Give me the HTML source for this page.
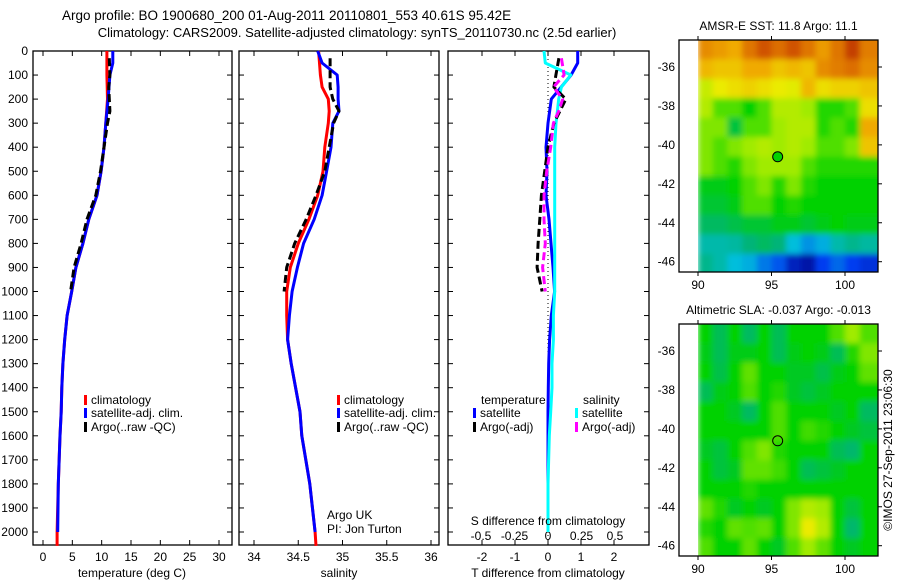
<!DOCTYPE html>
<html><head><meta charset="utf-8"><style>
html,body{margin:0;padding:0;background:#fff;}
svg{display:block;font-family:"Liberation Sans",sans-serif;font-size:12px;}
</style></head><body>
<svg id="c" width="900" height="580" xmlns="http://www.w3.org/2000/svg">
<defs>
<filter id="blur" x="0" y="0" width="1" height="1"><feGaussianBlur stdDeviation="3" edgeMode="duplicate"/></filter>
<clipPath id="clip1"><rect x="697" y="40" width="181" height="232"/></clipPath>
<clipPath id="clip2"><rect x="697" y="324" width="181" height="232"/></clipPath>
</defs>
<text x="62" y="20" font-size="13.5">Argo profile: BO 1900680_200 01-Aug-2011 20110801_553 40.61S 95.42E</text>
<text x="357" y="37" font-size="13" text-anchor="middle">Climatology: CARS2009. Satellite-adjusted climatology: synTS_20110730.nc (2.5d earlier)</text>
<g id="g"></g>
</svg>
<script>
// ---- data ----
const depthT = [0,50,100,200,300,400,500,600,700,800,900,1000,1100,1200,1300,1400,1500,1600,1800,2000,2058];
const tempClim = [10.9,10.9,10.9,11.0,10.7,10.4,9.9,9.2,7.8,6.8,5.6,4.9,4.1,3.7,3.4,3.2,3.1,2.9,2.6,2.4,2.4];
const tempSat  = [11.9,11.9,11.4,11.1,10.7,10.4,9.9,9.2,7.8,6.8,5.6,4.9,4.1,3.7,3.4,3.2,3.1,2.9,2.6,2.5,null];
const depthArgo = [30,100,150,200,250,300,400,500,600,700,800,900,1000];
const tempArgo = [11.3,11.4,11.2,11.3,11.4,11.0,10.4,9.8,9.0,7.5,6.5,5.3,4.7];
const depthS = [0,50,100,150,200,250,300,400,500,600,700,800,900,1000,1100,1200,1300,1400,1500,1600,1800,2000,2058];
const salClim = [34.73,34.74,34.75,34.77,34.84,34.85,34.84,34.80,34.78,34.72,34.62,34.50,34.41,34.37,34.37,34.38,34.42,34.47,34.52,34.54,34.63,34.69,34.70];
const salSat  = [34.72,34.77,34.94,34.95,34.95,34.96,34.89,34.87,34.82,34.77,34.68,34.56,34.49,34.43,34.40,34.38,34.42,34.47,34.52,34.54,34.63,34.69,null];
const salArgo = [34.86,34.86,34.86,34.89,34.96,34.90,34.85,34.80,34.70,34.59,34.46,34.37,34.34];
const dTsat = [0.9,0.9,0.7,0.1,0,-0.06,-0.03,-0.06,0.03,0.09,0.15,0.2,0.1,0.05,0.02,0.01,0.0,0.0,0.0,0.0,null];
const dSsat = [-0.03,-0.02,0.17,0.1,0.08,0.07,0.06,0.05,0.05,0.05,0.05,0.05,0.05,0.05,0.04,0.04,0.03,0.03,0.02,0.01,0.0,0.0,null];
const dTargo = [0.33,0.24,0.18,0.54,0.36,0.18,0.0,-0.1,-0.2,-0.25,-0.3,-0.33,-0.18];
const dSargo = [0.1,0.12,0.04,0.11,0.08,0.04,0.02,-0.01,-0.03,-0.03,-0.02,-0.04,-0.02];
const sstGrid = [
[.82,.8,.78,.85,.9,.86,.9,.85,.8,.85,.93,.84],
[.76,.74,.74,.78,.78,.74,.76,.74,.82,.84,.86,.82],
[.64,.68,.7,.72,.7,.68,.67,.76,.7,.72,.72,.74],
[.62,.55,.55,.5,.55,.62,.62,.6,.52,.52,.55,.7],
[.58,.58,.45,.55,.55,.6,.62,.62,.52,.55,.52,.78],
[.58,.55,.58,.6,.62,.6,.62,.6,.55,.55,.58,.74],
[.58,.55,.52,.58,.6,.6,.6,.55,.52,.52,.52,.52],
[.48,.48,.5,.55,.58,.52,.58,.52,.5,.5,.5,.5],
[.46,.46,.48,.55,.55,.5,.52,.5,.5,.5,.5,.5],
[.42,.42,.44,.46,.46,.48,.48,.46,.48,.5,.48,.48],
[.35,.35,.36,.4,.42,.4,.3,.25,.28,.35,.38,.36],
[.38,.35,.3,.28,.22,.18,.08,.05,.15,.2,.15,.12]];
const slaGrid = [
[.5,.43,.5,.42,.5,.43,.5,.5,.5,.55,.6,.55],
[.48,.43,.48,.48,.5,.43,.48,.5,.48,.43,.52,.58],
[.5,.44,.5,.56,.5,.5,.47,.47,.44,.48,.5,.56],
[.43,.48,.5,.55,.5,.52,.47,.45,.47,.5,.5,.5],
[.5,.5,.47,.42,.5,.55,.5,.5,.5,.47,.5,.42],
[.5,.5,.5,.5,.5,.55,.5,.54,.52,.5,.47,.45],
[.47,.45,.5,.55,.58,.52,.5,.5,.5,.43,.41,.5],
[.5,.45,.47,.56,.56,.54,.5,.43,.45,.47,.5,.5],
[.5,.5,.5,.52,.5,.5,.5,.5,.5,.5,.5,.5],
[.56,.52,.47,.5,.47,.5,.58,.62,.6,.5,.45,.5],
[.52,.5,.56,.55,.56,.5,.58,.68,.62,.5,.41,.5],
[.55,.5,.5,.56,.5,.47,.55,.6,.56,.5,.47,.5]];
const depthTicks = [0,100,200,300,400,500,600,700,800,900,1000,1100,1200,1300,1400,1500,1600,1700,1800,1900,2000];
const tempTicks = [0,5,10,15,20,25,30];
const salTicks = [34,34.5,35,35.5,36];
const dTTicks = [-2,-1,0,1,2];
const dSTicks = [-0.5,-0.25,0,0.25,0.5];
const latTicks = [-36,-38,-40,-42,-44,-46];
const lonTicks = [90,95,100];
const argoLon = 95.42, argoLat = -40.61;

const NS='http://www.w3.org/2000/svg';
const G=document.getElementById('g');
function mk(tag,attrs,parent){const e=document.createElementNS(NS,tag);for(const k in attrs)e.setAttribute(k,attrs[k]);(parent||G).appendChild(e);return e;}
function txt(x,y,s,anchor,parent){const e=mk('text',{x:x,y:y,'text-anchor':anchor||'start'},parent);e.textContent=s;return e;}

const TOP=51, BOT=545;
const yD = d => TOP + d*(532-51)/2000;
function lin(v0,p0,v1,p1){return v=>p0+(v-v0)*(p1-p0)/(v1-v0);}
const xT = lin(0,43,30,219);
const xS = lin(34,254,36,431);
const xdT = lin(0,548,2,614);
const xdS = lin(0,548,0.5,615);

function frame(x0,x1,name){
  const r=mk('rect',{x:x0,y:TOP,width:x1-x0,height:BOT-TOP,fill:'none',stroke:'#000','stroke-width':1.3});
  
  
  depthTicks.forEach(d=>{
    mk('line',{x1:x0,x2:x0+5,y1:yD(d),y2:yD(d),stroke:'#000'});
    mk('line',{x1:x1-5,x2:x1,y1:yD(d),y2:yD(d),stroke:'#000'});
  });
}
function xticks(ticks,fx,name,labelY){
  ticks.forEach(t=>{
    const x=fx(t);
    mk('line',{x1:x,x2:x,y1:BOT,y2:BOT-5,stroke:'#000'});
    mk('line',{x1:x,x2:x,y1:TOP,y2:TOP+5,stroke:'#000'});
    const e=txt(x,labelY,String(t),'middle');
    
    
  });
}
function line(xs,ds,fx,color,dash,name){
  let pts=[];
  xs.forEach((v,i)=>{if(v!==null)pts.push(fx(v).toFixed(1)+','+yD(ds[i]).toFixed(1));});
  const p=mk('polyline',{points:pts.join(' '),fill:'none',stroke:color,'stroke-width':3,'stroke-linejoin':'round'});
  if(dash)p.setAttribute('stroke-dasharray',dash);
  
  
}
function legItem(x,y,color,label,name){
  mk('rect',{x:x,y:y-9,width:3,height:10,fill:color});
  const t=txt(x+7,y,label);
  
  
}

// Panel 1
frame(33,232,'temperature-panel');
depthTicks.forEach(d=>{const t=txt(28,yD(d)+4,String(d),'end');
  
  });
xticks(tempTicks,xT,'temperature-tick-label',561);
line(tempClim,depthT,xT,'#f00',null,'temp-climatology-line');
line(tempSat,depthT,xT,'#00f',null,'temp-satellite-line');
line(tempArgo,depthArgo,xT,'#000','8,4','temp-argo-line');
let t1=txt(132,577,'temperature (deg C)','middle');
legItem(84,404,'#f00','climatology','legend-climatology');
legItem(84,417,'#00f','satellite-adj. clim.','legend-satellite');
legItem(84,431,'#000','Argo(..raw -QC)','legend-argo');

// Panel 2
frame(239,439,'salinity-panel');
xticks(salTicks,xS,'salinity-tick-label',561);
line(salClim,depthS,xS,'#f00',null,'sal-climatology-line');
line(salSat,depthS,xS,'#00f',null,'sal-satellite-line');
line(salArgo,depthArgo,xS,'#000','8,4','sal-argo-line');
let t2=txt(339,577,'salinity','middle');
legItem(337,404,'#f00','climatology','legend-climatology-2');
legItem(337,417,'#00f','satellite-adj. clim.','legend-satellite-2');
legItem(337,431,'#000','Argo(..raw -QC)','legend-argo-2');
let a1=txt(327,519,'Argo UK');
let a2=txt(327,533,'PI: Jon Turton');

// Panel 3
frame(448,649,'difference-panel');
xticks(dTTicks,xdT,'t-diff-tick-label',561);
dSTicks.forEach(t=>{const e=txt(xdS(t),540,String(t),'middle');
  
  });
mk('line',{x1:548,x2:548,y1:TOP,y2:BOT,stroke:'#000','stroke-dasharray':'1,3'});
line(dTsat,depthT,xdT,'#00f',null,'t-diff-satellite-line');
line(dSsat,depthS,xdS,'#0ff',null,'s-diff-satellite-line');
line(dTargo,depthArgo,xdT,'#000','8,4','t-diff-argo-line');
line(dSargo,depthArgo,xdS,'#f0f','8,4','s-diff-argo-line');
let t3=txt(548,577,'T difference from climatology','middle');
let t4=txt(548,525,'S difference from climatology','middle');
let l1=txt(481,404,'temperature');
let l2=txt(583,404,'salinity');
legItem(473,417,'#00f','satellite','legend-t-satellite');
legItem(473,431,'#000','Argo(-adj)','legend-t-argo');
legItem(575,417,'#0ff','satellite','legend-s-satellite');
legItem(575,431,'#f0f','Argo(-adj)','legend-s-argo');

// Maps
const cmapStops=[[0,[0,0,130]],[0.15,[0,60,240]],[0.3,[0,190,220]],[0.4,[0,180,120]],[0.5,[0,210,0]],[0.6,[160,235,0]],[0.68,[235,235,0]],[0.78,[240,170,0]],[0.88,[215,95,0]],[1,[170,20,0]]];
function cmap(v){
  v=Math.max(0,Math.min(1,v));
  for(let i=1;i<cmapStops.length;i++){
    const [a,ca]=cmapStops[i-1],[b,cb]=cmapStops[i];
    if(v<=b){const f=(v-a)/(b-a);
      return 'rgb('+ca.map((c,k)=>Math.round(c+(cb[k]-c)*f)).join(',')+')';}
  }
}
function map(grid,top,bottom,title,name,clip){
  const L=679,R=878;
  const fx=lin(90,698,100,845);
  const fy=lin(-36,top+27,-46,top+27+194.7);
  const outer=mk('g',{'clip-path':'url(#'+clip+')'});
  const grp=mk('g',{filter:'url(#blur)'},outer);
  
  
  grid.forEach((row,i)=>{row.forEach((v,j)=>{
    const la=-34.6-i, lo=90+j;
    const x0=fx(lo), y0=fy(la), x1=fx(lo+1)+(j===row.length-1?10:0), y1=fy(la-1)+(i===grid.length-1?10:0);
    const c=mk('rect',{x:x0,y:y0-(i===0?10:0),width:x1-x0+0.5,height:y1-y0+0.5+(i===0?10:0),fill:cmap(v)},grp);
    
    
  });});
  mk('rect',{x:L,y:top,width:R-L,height:bottom-top,fill:'none',stroke:'#000','stroke-width':1.3});
  latTicks.forEach(la=>{const y=fy(la);
    mk('line',{x1:R,x2:R+4,y1:y,y2:y,stroke:'#000'});
    const e=txt(L-4,y+4,String(la),'end');
    
    });
  lonTicks.forEach(lo=>{const x=fx(lo);
    mk('line',{x1:x,x2:x,y1:bottom,y2:bottom+4,stroke:'#000'});
    mk('line',{x1:x,x2:x,y1:top,y2:top-4,stroke:'#000'});
    const e=txt(x,bottom+17,String(lo),'middle');
    
    });
  const tt=txt((L+R)/2,top-10,title,'middle');
  
  
  return {fx,fy};
}
const m1=map(sstGrid,40,272,'AMSR-E SST: 11.8 Argo: 11.1','sst-map','clip1');
const c1=mk('circle',{cx:m1.fx(argoLon),cy:m1.fy(argoLat),r:5,fill:cmap(0.5),stroke:'#000'});


const m2=map(slaGrid,324,556,'Altimetric SLA: -0.037 Argo: -0.013','sla-map','clip2');
const c2=mk('circle',{cx:m2.fx(argoLon),cy:m2.fy(argoLat),r:5,fill:'none',stroke:'#000'});


const ts=txt(0,0,'©IMOS 27-Sep-2011 23:06:30','middle');
ts.setAttribute('transform','translate(892,450) rotate(-90)');


</script>
</body></html>
